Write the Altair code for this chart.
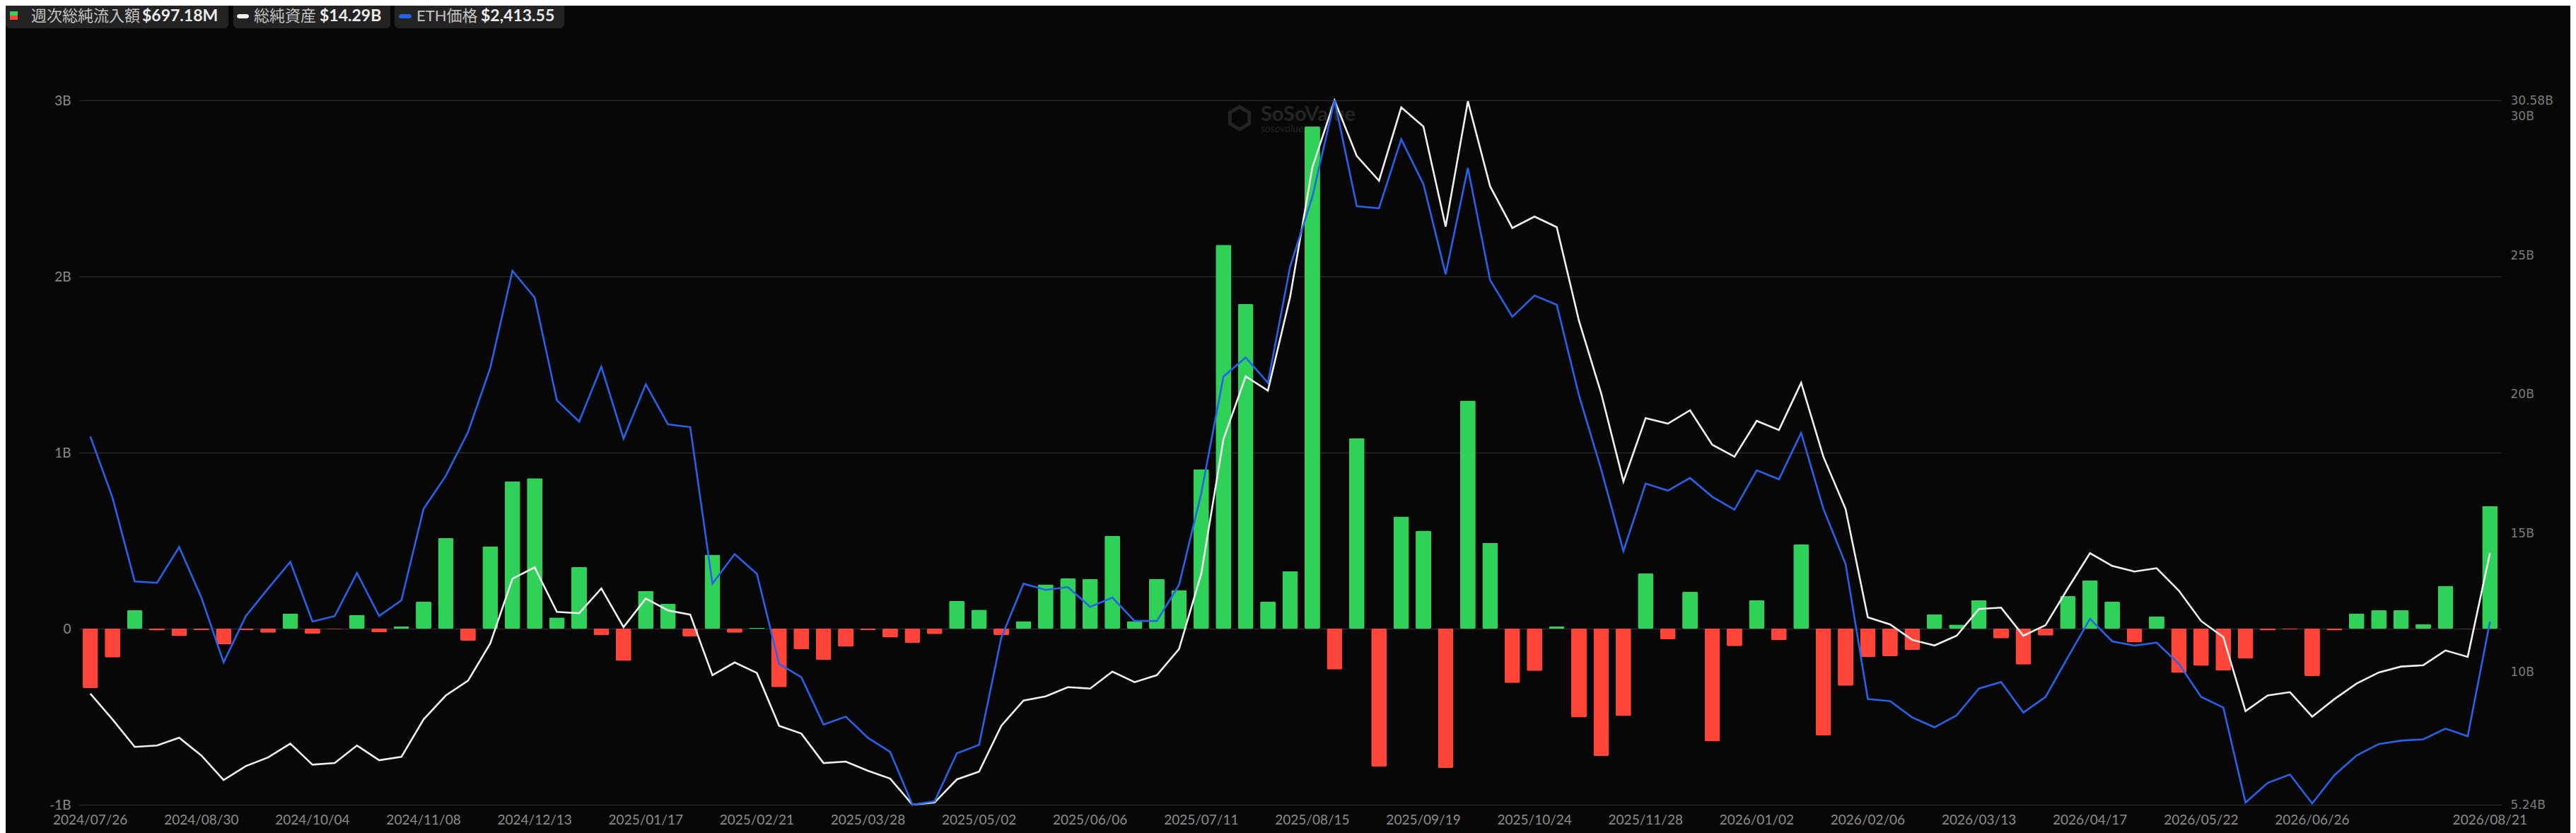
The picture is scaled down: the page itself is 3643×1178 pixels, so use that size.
import altair as alt
import pandas as pd

# ---- data ----
flows_b = [-0.337, -0.164, 0.104, -0.010, -0.042, -0.008, -0.089, -0.008, -0.023, 0.086,
           -0.029, -0.003, 0.078, -0.021, 0.013, 0.154, 0.514, -0.068, 0.467, 0.836,
           0.854, 0.063, 0.350, -0.037, -0.183, 0.214, 0.141, -0.044, 0.420, -0.023,
           0.005, -0.332, -0.117, -0.178, -0.102, -0.008, -0.050, -0.081, -0.031, 0.157,
           0.107, -0.037, 0.042, 0.251, 0.285, 0.282, 0.527, 0.042, 0.282, 0.219,
           0.906, 2.180, 1.843, 0.154, 0.326, 2.851, -0.232, 1.081, -0.783, 0.637,
           0.556, -0.791, 1.295, 0.488, -0.308, -0.240, 0.013, -0.504, -0.723, -0.496,
           0.313, -0.060, 0.209, -0.640, -0.099, 0.162, -0.065, 0.478, -0.606, -0.324,
           -0.162, -0.157, -0.120, 0.081, 0.023, 0.162, -0.055, -0.204, -0.039, 0.185,
           0.274, 0.154, -0.078, 0.070, -0.251, -0.211, -0.238, -0.170, -0.010, -0.005,
           -0.269, -0.010, 0.086, 0.104, 0.104, 0.026, 0.243, -0.002, 0.69718]

net_assets_b = [9.24, 8.31, 7.32, 7.37, 7.65, 7.01, 6.13, 6.63, 6.94, 7.44,
                6.68, 6.74, 7.37, 6.84, 6.96, 8.31, 9.17, 9.70, 11.04, 13.37,
                13.78, 12.18, 12.13, 13.02, 11.63, 12.66, 12.23, 12.08, 9.90, 10.36,
                9.98, 8.08, 7.80, 6.74, 6.79, 6.46, 6.18, 5.24, 5.32, 6.15,
                6.43, 8.08, 8.99, 9.14, 9.47, 9.42, 10.03, 9.65, 9.90, 10.84,
                13.55, 18.39, 20.65, 20.14, 23.51, 28.17, 30.58, 28.58, 27.69, 30.33,
                29.64, 26.04, 30.55, 27.49, 25.99, 26.40, 26.02, 22.65, 20.04, 16.87,
                19.15, 18.95, 19.43, 18.19, 17.76, 19.05, 18.72, 20.42, 17.76, 15.88,
                11.98, 11.73, 11.17, 10.97, 11.32, 12.28, 12.33, 11.32, 11.70, 13.02,
                14.29, 13.83, 13.63, 13.75, 12.94, 11.85, 11.27, 8.61, 9.17, 9.29,
                8.41, 9.04, 9.60, 10.00, 10.21, 10.26, 10.79, 10.56, 14.29]

eth_price = [3278, 2992, 2601, 2595, 2762, 2526, 2224, 2440, 2568, 2693,
             2414, 2440, 2641, 2440, 2513, 2940, 3094, 3298, 3597, 4050,
             3925, 3446, 3347, 3603, 3268, 3521, 3334, 3321, 2591, 2729,
             2637, 2217, 2155, 1934, 1971, 1872, 1806, 1560, 1576, 1800,
             1839, 2339, 2591, 2562, 2575, 2483, 2526, 2417, 2417, 2585,
             3012, 3557, 3646, 3528, 4070, 4395, 4845, 4352, 4342, 4664,
             4454, 4034, 4530, 4007, 3836, 3935, 3892, 3469, 3124, 2743,
             3058, 3025, 3084, 2996, 2936, 3120, 3078, 3294, 2940, 2683,
             2053, 2043, 1967, 1921, 1977, 2102, 2132, 1990, 2063, 2247,
             2427, 2322, 2302, 2316, 2217, 2063, 2013, 1570, 1662, 1701,
             1566, 1698, 1790, 1843, 1859, 1865, 1915, 1879, 2413.55]

dates = [d.strftime("%Y/%m/%d") for d in pd.date_range("2024-07-26", periods=len(flows_b), freq="7D")]
tick_dates = [dates[i] for i in range(0, 101, 5)] + [dates[-1]]

left_ticks = [-1, 0, 1, 2, 3]
right_ticks = [5.24, 10, 15, 20, 25, 30, 30.58]

df = pd.DataFrame({"date": dates, "flow": flows_b, "assets": net_assets_b, "eth": eth_price})

GREEN = "#30d158"
RED = "#ff453a"
BLUE = "#2563eb"
WHITE = "#f0f0f0"
BG = "#070707"
FONT = "Lato, Noto Sans CJK JP, sans-serif"

W, H = 3425, 996

xenc = alt.X("date:N", sort=None,
             scale=alt.Scale(type="band", paddingInner=0.3, paddingOuter=0.15),
             axis=alt.Axis(values=tick_dates, labelAngle=0, labelColor="#8c8c8c", labelFontSize=19,
                           labelFont=FONT, ticks=False, domain=False, grid=False, title=None,
                           labelPadding=12, labelOverlap=False))

base = alt.Chart(df)

bars = base.mark_bar(cornerRadius=2).encode(
    x=xenc,
    y=alt.Y("flow:Q", scale=alt.Scale(domain=[-1, 3], nice=False, zero=False),
            axis=alt.Axis(orient="left", values=left_ticks,
                          labelExpr="datum.value == 0 ? '0' : datum.value + 'B'",
                          grid=True, gridColor="#333333", gridWidth=1.2, domain=False, ticks=False,
                          labelPadding=12, labelColor="#8a8a8a", labelFontSize=19, labelFont=FONT,
                          title=None)),
    color=alt.condition(alt.datum.flow >= 0, alt.value(GREEN), alt.value(RED)),
)

assets_line = base.mark_line(color=WHITE, strokeWidth=2.6).encode(
    x=xenc,
    y=alt.Y("assets:Q", scale=alt.Scale(domain=[min(net_assets_b), max(net_assets_b)], nice=False, zero=False),
            axis=alt.Axis(orient="right", values=right_ticks, labelExpr="datum.value + 'B'",
                          grid=False, domain=False, ticks=False, labelPadding=13,
                          labelColor="#7a7a7a", labelFontSize=17, labelFont="DejaVu Sans",
                          labelOverlap=False, labelBound=False, title=None)),
)

eth_line = base.mark_line(color=BLUE, strokeWidth=2.6).encode(
    x=xenc,
    y=alt.Y("eth:Q", scale=alt.Scale(domain=[min(eth_price), max(eth_price)], nice=False, zero=False),
            axis=None),
)

one = alt.Data(values=[{}])

def rect(x, x2, y, y2, color, r=0):
    return alt.Chart(one).mark_rect(color=color, cornerRadius=r).encode(
        x=alt.value(x), x2=alt.value(x2), y=alt.value(y), y2=alt.value(y2))

def txt(s, x, y, color, size=22, weight="normal", font=FONT, style="normal"):
    return alt.Chart(one).mark_text(text=s, align="left", baseline="middle", color=color,
                                    fontSize=size, fontWeight=weight, font=font,
                                    fontStyle=style).encode(x=alt.value(x), y=alt.value(y))

PILL = "#232323"
TY = -119
legend_layers = [
    rect(-104, 211, -138, -102, PILL, 6),
    rect(-98, -87, -126, -120, GREEN),
    rect(-98, -87, -120, -114, RED),
    txt("週次総純流入額", -68, TY, "#c4c4c4"),
    txt(f"${flows_b[-1] * 1000:.2f}M", 89, TY, "#ececec", 23, "bold"),
    rect(218, 440, -138, -102, PILL, 6),
    rect(223, 240, -122, -116, WHITE, 3),
    txt("総純資産", 247, TY, "#c4c4c4"),
    txt(f"${net_assets_b[-1]:.2f}B", 340, TY, "#ececec", 23, "bold"),
    rect(446, 686, -138, -102, PILL, 6),
    rect(452, 470, -122, -116, BLUE, 3),
    txt("ETH価格", 477, TY, "#c4c4c4"),
    txt(f"${eth_price[-1]:,.2f}", 568, TY, "#ececec", 23, "bold"),
]

wm_color = "#242424"
watermark = [
    alt.Chart(one).mark_point(
        shape="M0,-1L0.866,-0.5L0.866,0.5L0,1L-0.866,0.5L-0.866,-0.5Z",
        size=1000, filled=False, stroke=wm_color, strokeWidth=5, opacity=1,
    ).encode(x=alt.value(1641), y=alt.value(25)),
    txt("SoSoValue", 1671, 20, wm_color, 29, "bold"),
    txt("sosovalue.com", 1671, 40, wm_color, 15, "normal", style="italic"),
]

chart = alt.layer(
    *watermark, bars, assets_line, eth_line, *legend_layers
).resolve_scale(
    y="independent"
).properties(
    width=W, height=H,
    autosize=alt.AutoSizeParams(type="none"),
    padding={"left": 104, "top": 134, "right": 98, "bottom": 40},
    background=BG,
).configure_view(stroke=None)

chart.save("out.html", embed_options={"renderer": "svg", "actions": False})
